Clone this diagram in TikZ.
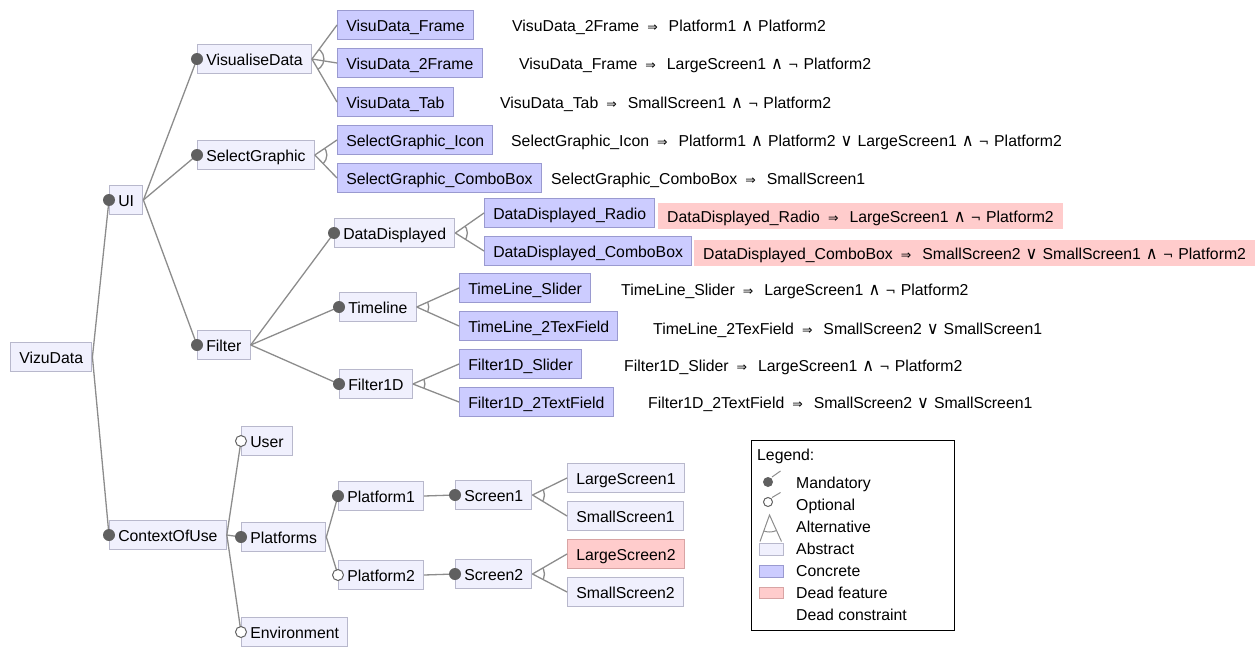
\documentclass[tikz,border=0pt]{standalone}
\usepackage{fontspec}
\usepackage{graphicx}
\setmainfont{Liberation Sans}
\newfontfamily\opfont{DejaVu Sans}
\definecolor{absfill}{HTML}{F0F0FD}
\definecolor{absline}{HTML}{B8B8CC}
\definecolor{confill}{HTML}{CCCCFF}
\definecolor{conline}{HTML}{9A9AD0}
\definecolor{deadfill}{HTML}{FFCCCC}
\definecolor{deadline}{HTML}{D8A4A4}
\definecolor{edgegray}{HTML}{8C8C8C}
\definecolor{dotgray}{HTML}{606060}
\newcommand\labelfont{\fontsize{15.8}{18}\selectfont}
\newcommand\opsym[1]{{\opfont\fontsize{12.5}{14}\selectfont #1}}
\newcommand\IMP{\hspace{8pt}\opsym{⇒}\hspace{11pt}}
\newcommand\AND{\hspace{5pt}\scalebox{1.3}[1.4]{\opsym{∧}}\hspace{5pt}}
\newcommand\OR{\hspace{5pt}\scalebox{1.3}[1.4]{\opsym{∨}}\hspace{5pt}}
\newcommand\NOT{\opsym{¬}\hspace{5pt}}
% arc marking an alternative group: parent, first child, last child
\newcommand\altarc[3]{\begin{scope}\clip (#1.east) -- (#2.west) -- (#3.west) -- cycle;
  \draw[edge] (#1.east) circle (12pt);\end{scope}}
\newcommand\mand[1]{\fill[dotgray] (#1.west) circle (6pt);}
\newcommand\opt[1]{\filldraw[fill=white, draw=dotgray, line width=1pt] (#1.west) circle (5.5pt);}
\tikzset{
  feature/.style={rectangle, draw=absline, fill=absfill, line width=1pt,
    minimum height=29pt, inner xsep=8.8pt, inner ysep=0pt,
    text height=14pt, text depth=0.4pt, anchor=west, font=\labelfont},
  concretef/.style={feature, draw=conline, fill=confill},
  deadf/.style={feature, draw=deadline, fill=deadfill},
  constraint/.style={anchor=west, inner xsep=9pt, inner ysep=0pt, minimum height=26pt,
    text height=14pt, text depth=0.4pt, font=\labelfont},
  deadc/.style={constraint, fill=deadfill},
  edge/.style={draw=edgegray, line width=1.3pt},
  legtext/.style={anchor=base west, inner sep=0pt, font=\labelfont},
}
\begin{document}
\begin{tikzpicture}[x=1pt, y=-1pt]
\useasboundingbox (0,0) rectangle (1260,650);

% feature tree
\node[feature] (root) at (10,357) {VizuData};
\node[feature] (ui) at (109,200) {UI};
\node[feature] (vis) at (197,59) {VisualiseData};
\node[feature] (sel) at (197,155) {SelectGraphic};
\node[feature] (filt) at (197,345) {Filter};
\node[concretef] (vdf) at (337,25) {VisuData\_Frame};
\node[concretef] (vd2) at (337,63) {VisuData\_2Frame};
\node[concretef] (vdt) at (337,102) {VisuData\_Tab};
\node[concretef] (sgi) at (337,140) {SelectGraphic\_Icon};
\node[concretef] (sgc) at (337,178) {SelectGraphic\_ComboBox};
\node[feature] (dd) at (334,233) {DataDisplayed};
\node[feature] (tl) at (339,307) {Timeline};
\node[feature] (f1) at (339,384) {Filter1D};
\node[concretef] (ddr) at (484,213) {DataDisplayed\_Radio};
\node[concretef] (ddc) at (484,251) {DataDisplayed\_ComboBox};
\node[concretef] (tls) at (459,288) {TimeLine\_Slider};
\node[concretef] (tlt) at (459,326) {TimeLine\_2TexField};
\node[concretef] (f1s) at (459,364) {Filter1D\_Slider};
\node[concretef] (f1t) at (459,402) {Filter1D\_2TextField};
\node[feature] (ctx) at (109,535) {ContextOfUse};
\node[feature] (user) at (241,441) {User};
\node[feature] (plat) at (241,537) {Platforms};
\node[feature] (env) at (241,632) {Environment};
\node[feature] (p1) at (338,496) {Platform1};
\node[feature] (p2) at (338,575) {Platform2};
\node[feature] (s1) at (455,495) {Screen1};
\node[feature] (s2) at (455,574) {Screen2};
\node[feature] (ls1) at (567,478) {LargeScreen1};
\node[feature] (ss1) at (567,516) {SmallScreen1};
\node[deadf] (ls2) at (567,554) {LargeScreen2};
\node[feature] (ss2) at (567,592) {SmallScreen2};

% connectors
\foreach \p/\c in {root/ui, root/ctx, ui/vis, ui/sel, ui/filt,
  vis/vdf, vis/vd2, vis/vdt, sel/sgi, sel/sgc,
  filt/dd, filt/tl, filt/f1, dd/ddr, dd/ddc, tl/tls, tl/tlt, f1/f1s, f1/f1t,
  ctx/user, ctx/plat, ctx/env, plat/p1, plat/p2, p1/s1, p2/s2,
  s1/ls1, s1/ss1, s2/ls2, s2/ss2}
  \draw[edge] (\p.east) -- (\c.west);

\altarc{vis}{vdf}{vdt}
\altarc{sel}{sgi}{sgc}
\altarc{dd}{ddr}{ddc}
\altarc{tl}{tls}{tlt}
\altarc{f1}{f1s}{f1t}
\altarc{s1}{ls1}{ss1}
\altarc{s2}{ls2}{ss2}

\mand{ui}\mand{ctx}\mand{vis}\mand{sel}\mand{filt}
\mand{dd}\mand{tl}\mand{f1}\mand{plat}\mand{p1}\mand{s1}\mand{s2}
\opt{user}\opt{env}\opt{p2}

% cross-tree constraints
\node[constraint] (k1) at (503,25) {VisuData\_2Frame\IMP Platform1\AND Platform2};
\node[constraint] (k2) at (510,63) {VisuData\_Frame\IMP LargeScreen1\AND\NOT Platform2};
\node[constraint] (k3) at (491,102) {VisuData\_Tab\IMP SmallScreen1\AND\NOT Platform2};
\node[constraint] (k4) at (502,140) {SelectGraphic\_Icon\IMP Platform1\AND Platform2\OR LargeScreen1\AND\NOT Platform2};
\node[constraint] (k5) at (542,178) {SelectGraphic\_ComboBox\IMP SmallScreen1};
\node[deadc] (k6) at (658,216) {DataDisplayed\_Radio\IMP LargeScreen1\AND\NOT Platform2};
\node[deadc] (k7) at (694,253) {DataDisplayed\_ComboBox\IMP SmallScreen2\OR SmallScreen1\AND\NOT Platform2};
\node[constraint] (k8) at (612,289) {TimeLine\_Slider\IMP LargeScreen1\AND\NOT Platform2};
\node[constraint] (k9) at (644,328) {TimeLine\_2TexField\IMP SmallScreen2\OR SmallScreen1};
\node[constraint] (k10) at (615,365) {Filter1D\_Slider\IMP LargeScreen1\AND\NOT Platform2};
\node[constraint] (k11) at (639,402) {Filter1D\_2TextField\IMP SmallScreen2\OR SmallScreen1};

% legend
\draw[black, line width=0.9pt] (751,440) rectangle (954,630);
\node[legtext] at (757,460) {Legend:};
\fill[dotgray] (768,482) circle (5pt);
\draw[edgegray, line width=1pt] (772,477) -- (780.5,471);
\draw[dotgray, line width=1pt] (768,502) circle (4.5pt);
\draw[edgegray, line width=1pt] (772,497.5) -- (780.5,492.5);
\draw[edgegray, line width=1pt] (760,541.5) -- (769.5,515) -- (781.5,541.5);
\begin{scope}
  \clip (769.5,515) -- (760,541.5) -- (781.5,541.5) -- cycle;
  \draw[edgegray, line width=1pt] (769.5,515) circle (17pt);
\end{scope}
\filldraw[fill=absfill, draw=absline, line width=1pt] (759,543) rectangle (783,555);
\filldraw[fill=confill, draw=conline, line width=1pt] (759,565) rectangle (783,577);
\filldraw[fill=deadfill, draw=deadline, line width=1pt] (759,587) rectangle (783,598);
\node[legtext] at (796,488) {Mandatory};
\node[legtext] at (796,510) {Optional};
\node[legtext] at (796,532) {Alternative};
\node[legtext] at (796,554) {Abstract};
\node[legtext] at (796,576) {Concrete};
\node[legtext] at (796,598) {Dead feature};
\node[legtext] at (796,620) {Dead constraint};
\end{tikzpicture}
\end{document}
